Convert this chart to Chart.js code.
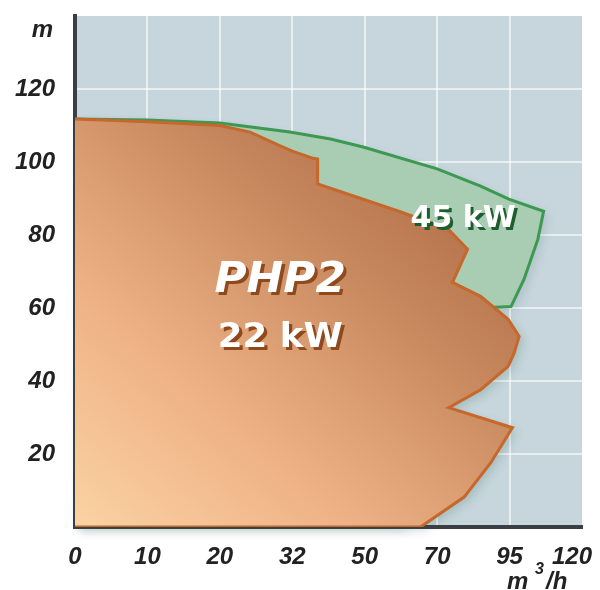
<!DOCTYPE html>
<html>
<head>
<meta charset="utf-8">
<script src="https://cdn.jsdelivr.net/npm/chart.js@4.4.1/dist/chart.umd.min.js"></script>
<style>
  html, body { margin: 0; padding: 0; background: #ffffff; }
</style>
</head>
<body>
<canvas id="pumpChart" width="600" height="590"></canvas>
<script>
// axis ticks (x ticks are evenly spaced, not proportional)
const xTicks = [0, 10, 20, 32, 50, 70, 95, 120];
const yTicks = [20, 40, 60, 80, 100, 120];

// 22 kW envelope (flow m3/h, head m)
const flow22 = [0, 10, 20, 25, 30, 32, 37.2, 38.3, 38.3, 49.6, 60, 73.8, 80.5, 75.3, 85, 94.5, 98.3, 96.5, 94.5, 85, 74, 96, 88.5, 79.3, 65.4, 0];
const head22 = [111.8, 111, 110, 108.2, 104.4, 103, 101, 100.8, 94, 89.8, 86.3, 81.6, 76.1, 67, 63.2, 56.9, 52.2, 47.5, 44, 37.6, 32.7, 27.2, 17.6, 8.2, 0, 0];

// 45 kW envelope
const flow45 = [0, 10, 20, 31.6, 41.5, 49.6, 70, 85, 94.75, 106.75, 104.75, 100, 95.5, 85, 60, 0];
const head45 = [111.8, 111.5, 110.7, 108.2, 106.3, 104.1, 98.1, 93.4, 89.8, 86.5, 78.8, 67.9, 60.4, 60, 0, 0];

// labels inside the chart
const labelText = ['PHP2', '22 kW', '45 kW'];
const labelFlow = [30, 30, 79];
const labelHead = [64.3, 49.2, 82.1];

const flowToPos = (q) => {
  for (let i = 0; i < xTicks.length - 1; i++) {
    if (q <= xTicks[i + 1]) return i + (q - xTicks[i]) / (xTicks[i + 1] - xTicks[i]);
  }
  return xTicks.length - 1;
};

const toPoints = (flows, heads) => flows.map((q, i) => ({ x: flowToPos(q), y: heads[i] }));

const orangeFill = (context) => {
  const chart = context.chart;
  const area = chart.chartArea;
  if (!area) return '#d99a6c';
  const g = chart.ctx.createLinearGradient(area.left, area.bottom, area.left + 345, area.bottom - 397);
  g.addColorStop(0, '#fbd3a3');
  g.addColorStop(0.35, '#eeb185');
  g.addColorStop(0.7, '#c98a60');
  g.addColorStop(1, '#b06c45');
  return g;
};

const tickFont = { family: "'Liberation Sans', Arial, sans-serif", size: 24, style: 'italic', weight: 'bold' };

const plotBackground = {
  id: 'plotBackground',
  beforeDraw(chart) {
    const { ctx, chartArea } = chart;
    ctx.save();
    ctx.fillStyle = '#c6d6dc';
    ctx.fillRect(chartArea.left, chartArea.top, chartArea.right - chartArea.left, chartArea.bottom - chartArea.top);
    ctx.restore();
  }
};

const shapeShadow = {
  id: 'shapeShadow',
  beforeDatasetsDraw(chart) {
    const ctx = chart.ctx;
    chart.data.datasets.forEach((ds, i) => {
      const meta = chart.getDatasetMeta(i);
      ctx.save();
      ctx.shadowColor = ds.shadowColor;
      ctx.shadowBlur = 10;
      ctx.shadowOffsetX = 4;
      ctx.shadowOffsetY = 4;
      ctx.fillStyle = ds.shadowColor;
      ctx.beginPath();
      meta.data.forEach((p, k) => (k ? ctx.lineTo(p.x, p.y) : ctx.moveTo(p.x, p.y)));
      ctx.closePath();
      ctx.fill();
      ctx.restore();
    });
  }
};

const drawShadowText = (ctx, text, x, y, font, color, shadow, scaleX) => {
  ctx.save();
  ctx.translate(x, y);
  ctx.scale(scaleX || 1, 1);
  ctx.font = font;
  ctx.textAlign = 'center';
  ctx.textBaseline = 'alphabetic';
  ctx.fillStyle = shadow;
  ctx.fillText(text, 3, 3);
  ctx.fillStyle = color;
  ctx.fillText(text, 0, 0);
  ctx.restore();
};

const chartText = {
  id: 'chartText',
  afterDraw(chart) {
    const ctx = chart.ctx;
    const xs = chart.scales.x;
    const ys = chart.scales.y;
    const fonts = [
      "italic bold 43px 'DejaVu Sans'",
      "bold 33px 'DejaVu Sans'",
      "bold 30px 'DejaVu Sans'"
    ];
    const shadows = ['#8e4a1c', '#8e4a1c', '#1d5e2e'];
    const stretch = [1.02, 1.08, 1.0];
    labelText.forEach((t, i) => {
      drawShadowText(ctx, t, xs.getPixelForValue(flowToPos(labelFlow[i])), ys.getPixelForValue(labelHead[i]),
        fonts[i], '#ffffff', shadows[i], stretch[i]);
    });

    ctx.save();
    ctx.fillStyle = '#222222';
    ctx.font = "italic bold 24px 'Liberation Sans', Arial, sans-serif";
    ctx.textBaseline = 'alphabetic';
    ctx.textAlign = 'right';
    ctx.fillText('m', 53, 37);
    ctx.textAlign = 'left';
    ctx.fillText('m', 507, 589);
    ctx.fillText('/h', 546, 589);
    ctx.font = "italic bold 16px 'Liberation Sans', Arial, sans-serif";
    ctx.fillText('3', 535, 574);
    ctx.restore();
  }
};

const hideEdges = (last) => (ctx) => {
  const v = ctx.tick ? ctx.tick.value : null;
  return (v === 0 || v === last) ? 'rgba(0,0,0,0)' : 'rgba(255,255,255,0.6)';
};

new Chart(document.getElementById('pumpChart'), {
  type: 'line',
  data: {
    datasets: [
      {
        label: '22 kW',
        data: toPoints(flow22, head22),
        borderColor: '#c6672c',
        borderWidth: 3,
        backgroundColor: orangeFill,
        fill: 'shape',
        pointRadius: 0,
        tension: 0,
        order: 1,
        shadowColor: 'rgba(40,95,70,0.45)'
      },
      {
        label: '45 kW',
        data: toPoints(flow45, head45),
        borderColor: '#3d9852',
        borderWidth: 3,
        backgroundColor: '#a9cdb3',
        fill: 'shape',
        pointRadius: 0,
        tension: 0,
        order: 2,
        shadowColor: 'rgba(60,85,95,0.4)'
      }
    ]
  },
  options: {
    responsive: false,
    animation: false,
    layout: { padding: { top: 16, right: 18, left: 0, bottom: 0 } },
    plugins: {
      legend: { display: false },
      tooltip: { enabled: false }
    },
    scales: {
      x: {
        type: 'linear',
        min: 0,
        max: xTicks.length - 1,
        z: 1,
        afterFit: (scale) => {
          scale.height = 63;
          scale.paddingLeft = 0;
          scale.paddingRight = 0;
        },
        ticks: {
          stepSize: 1,
          padding: 16,
          color: '#222222',
          font: tickFont,
          // last label sits a little left of its grid position, as in the original
          callback: (v) => (v === xTicks.length - 1 ? xTicks[v] + '   ' : xTicks[v])
        },
        grid: { color: hideEdges(xTicks.length - 1), lineWidth: 2, drawTicks: false },
        border: { display: true, color: '#3b3f45', width: 4 }
      },
      y: {
        type: 'linear',
        min: 0,
        max: 140,
        z: 1,
        afterFit: (scale) => {
          scale.width = 75;
          scale.paddingTop = 0;
          scale.paddingBottom = 0;
        },
        ticks: {
          stepSize: 20,
          padding: 20,
          color: '#222222',
          font: tickFont,
          callback: (v) => (yTicks.includes(v) ? v : '')
        },
        grid: { color: hideEdges(140), lineWidth: 2, drawTicks: false },
        border: { display: true, color: '#3b3f45', width: 4 }
      }
    }
  },
  plugins: [plotBackground, shapeShadow, chartText]
});
</script>
</body>
</html>
